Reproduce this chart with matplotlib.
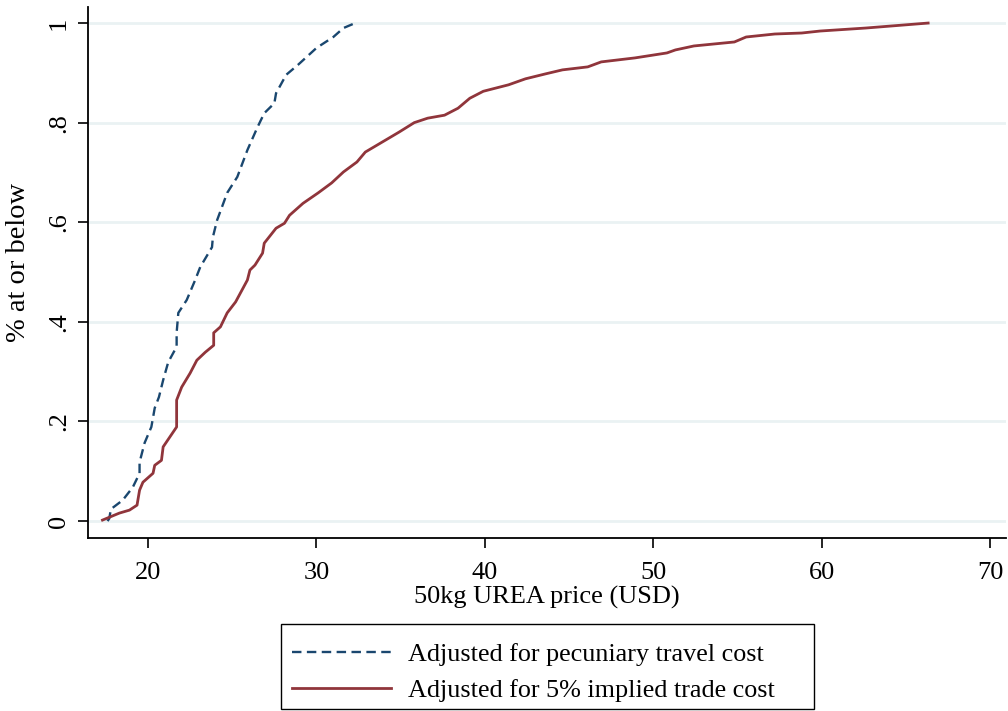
import matplotlib
matplotlib.use("Agg")
import matplotlib.pyplot as plt
from matplotlib.lines import Line2D
from matplotlib.patches import Rectangle

# Data (price in USD, cumulative share)
pecuniary_x = [17.6, 17.7, 17.8, 18.5, 19.1, 19.5, 19.5, 19.8, 20.2, 20.4, 20.65, 20.9,
               21.2, 21.7, 21.7, 21.8, 22.3, 22.8, 23.1, 23.8, 23.85, 24.1, 24.7, 25.3,
               25.9, 26.5, 26.9, 27.5, 27.6, 28.2, 28.9, 30.0, 31.0, 31.6, 32.3]
pecuniary_y = [0.0, 0.005, 0.024, 0.042, 0.068, 0.096, 0.118, 0.157, 0.189, 0.227, 0.249, 0.283,
               0.319, 0.35, 0.378, 0.418, 0.444, 0.484, 0.51, 0.55, 0.57, 0.604, 0.659, 0.691,
               0.745, 0.791, 0.819, 0.839, 0.859, 0.896, 0.916, 0.95, 0.972, 0.99, 1.0]

trade_x = [17.3, 18.3, 18.9, 19.35, 19.5, 19.7, 20.3, 20.4, 20.8, 20.9, 21.3, 21.7, 21.7,
           22.0, 22.5, 22.9, 23.4, 23.9, 23.9, 24.3, 24.7, 25.2, 25.9, 26.05, 26.35, 26.8,
           26.9, 27.6, 28.1, 28.4, 29.2, 30.1, 30.9, 31.6, 32.4, 32.9, 33.8, 34.9, 35.8,
           36.6, 37.6, 38.4, 39.1, 39.9, 41.4, 42.4, 43.6, 44.6, 46.1, 46.9, 48.9, 50.8,
           51.3, 52.4, 54.8, 55.5, 57.2, 58.8, 59.9, 62.6, 66.3]
trade_y = [0.002, 0.016, 0.022, 0.032, 0.062, 0.078, 0.096, 0.112, 0.122, 0.149, 0.169, 0.189, 0.243,
           0.269, 0.297, 0.323, 0.339, 0.353, 0.378, 0.39, 0.418, 0.44, 0.484, 0.504, 0.514, 0.538,
           0.558, 0.588, 0.598, 0.614, 0.638, 0.659, 0.679, 0.701, 0.721, 0.741, 0.759, 0.781, 0.8,
           0.809, 0.815, 0.829, 0.849, 0.863, 0.876, 0.888, 0.898, 0.906, 0.912, 0.922, 0.93, 0.94,
           0.946, 0.954, 0.962, 0.972, 0.978, 0.98, 0.984, 0.99, 1.0]

x_ticks = [20, 30, 40, 50, 60, 70]
y_ticks = [0, 0.2, 0.4, 0.6, 0.8, 1.0]
y_ticklabels = ["0", ".2", ".4", ".6", ".8", "1"]
labels = ["Adjusted for pecuniary travel cost", "Adjusted for 5% implied trade cost"]

plt.rcParams['font.family'] = ['Liberation Serif', 'DejaVu Serif']

BLUE = "#1a476f"
RED = "#90353b"
GRID = "#eaf2f3"
DASH = (0, (4.0, 2.3))

W, H = 1008, 711
fig = plt.figure(figsize=(W / 100, H / 100), dpi=100)
ax = fig.add_axes([0.0873, 0.2433, 0.9107, 0.7467])

ax.plot(pecuniary_x, pecuniary_y, color=BLUE, lw=1.7, linestyle=DASH)
ax.plot(trade_x, trade_y, color=RED, lw=2.0)

ax.set_xlim(16.44, 70.92)
ax.set_ylim(-0.034, 1.032)
ax.set_xticks(x_ticks)
ax.set_yticks(y_ticks)
ax.set_yticklabels(y_ticklabels, rotation=90, va='center')
ax.tick_params(axis='both', direction='out', length=7, width=1.2, labelsize=19, color='black')
ax.tick_params(axis='x', pad=10.5)
ax.tick_params(axis='y', pad=6)

for s in ['top', 'right']:
    ax.spines[s].set_visible(False)
for s in ['left', 'bottom']:
    ax.spines[s].set_linewidth(1.3)

ax.yaxis.grid(True, color=GRID, lw=2)
ax.set_axisbelow(True)

ax.set_xlabel("50kg UREA price (USD)", fontsize=19, labelpad=1.5)
ax.set_ylabel("% at or below", fontsize=20.5)
ax.yaxis.set_label_coords(-0.062, 0.52)

# legend box (drawn separately to match the reference's wide right margin)
bx0, bx1, by0, by1 = 281, 814, 624, 709
fig.patches.append(Rectangle((bx0 / W, 1 - by1 / H), (bx1 - bx0) / W, (by1 - by0) / H,
                             transform=fig.transFigure, fill=False, edgecolor='black',
                             linewidth=1.0, zorder=5))

handles = [Line2D([], [], color=BLUE, lw=1.7, linestyle=DASH),
           Line2D([], [], color=RED, lw=2.0)]
leg = fig.legend(handles, labels, loc='upper left', bbox_to_anchor=(273 / W, 1 - by0 / H),
                 frameon=False, fontsize=18.8,
                 handlelength=3.8, handletextpad=0.65, borderpad=0.73, labelspacing=0.48,
                 borderaxespad=0, handleheight=0.7)

fig.savefig("out.png", dpi=100)
